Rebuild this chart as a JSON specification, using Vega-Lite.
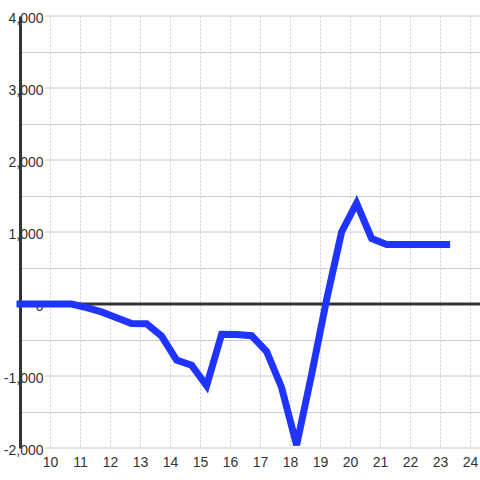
{
  "$schema": "https://vega.github.io/schema/vega-lite/v6.json",
  "width": 460,
  "height": 432,
  "autosize": {"type": "none"},
  "padding": {"left": 20, "top": 16, "right": 0, "bottom": 32},
  "background": "white",
  "config": {
    "view": {"stroke": null},
    "axis": {"labelFont": "Liberation Sans", "labelFontSize": 14, "labelColor": "#333333", "title": null, "labelOverlap": false},
    "axisX": {
      "grid": true, "gridColor": "#cccccc", "gridDash": [2, 2], "gridWidth": 1,
      "domain": false, "ticks": false, "tickSize": 0, "labelPadding": 7, "labelFlush": false, "labelOverlap": false
    },
    "axisY": {
      "grid": true, "gridColor": "#cccccc", "gridWidth": 1,
      "domain": true, "domainColor": "#333333", "domainWidth": 3,
      "ticks": false, "tickSize": 0, "labelPadding": -23, "labelOffset": 2,
      "labelAlign": "right", "labelBaseline": "middle", "labelOverlap": false
    }
  },
  "datasets": {
    "series": [
      {"t": 9.0, "value": 0},
      {"t": 10.22, "value": 0},
      {"t": 10.72, "value": 0},
      {"t": 11.22, "value": -50},
      {"t": 11.72, "value": -110},
      {"t": 12.22, "value": -190},
      {"t": 12.72, "value": -272},
      {"t": 13.22, "value": -275},
      {"t": 13.72, "value": -445},
      {"t": 14.22, "value": -778},
      {"t": 14.72, "value": -850},
      {"t": 15.22, "value": -1135},
      {"t": 15.72, "value": -420},
      {"t": 16.22, "value": -425},
      {"t": 16.72, "value": -440},
      {"t": 17.22, "value": -660},
      {"t": 17.72, "value": -1160},
      {"t": 18.22, "value": -1960},
      {"t": 18.72, "value": -980},
      {"t": 19.22, "value": 60},
      {"t": 19.72, "value": 1000},
      {"t": 20.22, "value": 1400},
      {"t": 20.72, "value": 910},
      {"t": 21.22, "value": 828},
      {"t": 21.72, "value": 826},
      {"t": 22.22, "value": 826},
      {"t": 22.72, "value": 826},
      {"t": 23.22, "value": 826}
    ],
    "majors": [
      {"v": -2000}, {"v": -1000}, {"v": 1000}, {"v": 2000}, {"v": 3000}, {"v": 4000}
    ],
    "zero": [{"v": 0}]
  },
  "layer": [
    {
      "data": {"name": "majors"},
      "mark": {"type": "rule", "color": "#cccccc", "strokeWidth": 1},
      "encoding": {
        "y": {
          "field": "v", "type": "quantitative",
          "scale": {"domain": [-2000, 4000], "nice": false, "zero": false},
          "axis": {
            "title": null,
            "values": [-2000, -1500, -1000, -500, 0, 500, 1000, 1500, 2000, 2500, 3000, 3500, 4000],
            "labelExpr": "datum.value % 1000 === 0 ? (datum.value < 0 ? '-' + format(-datum.value, ',') : format(datum.value, ',')) : ''",
            "gridOpacity": {"condition": {"test": "datum.value % 1000 === 0", "value": 0}, "value": 1}
          }
        },
        "x": {
          "datum": 9.833, "type": "quantitative",
          "scale": {"domain": [9, 24.3333], "nice": false, "zero": false},
          "axis": {"title": null, "values": [10, 11, 12, 13, 14, 15, 16, 17, 18, 19, 20, 21, 22, 23, 24]}
        },
        "x2": {"datum": 24.3333}
      }
    },
    {
      "data": {"name": "zero"},
      "mark": {"type": "rule", "color": "#333333", "strokeWidth": 3},
      "encoding": {
        "y": {
          "field": "v", "type": "quantitative",
          "axis": {
            "title": null,
            "values": [-2000, -1500, -1000, -500, 0, 500, 1000, 1500, 2000, 2500, 3000, 3500, 4000],
            "labelExpr": "datum.value % 1000 === 0 ? (datum.value < 0 ? '-' + format(-datum.value, ',') : format(datum.value, ',')) : ''",
            "gridOpacity": {"condition": {"test": "datum.value % 1000 === 0", "value": 0}, "value": 1}
          }
        },
        "x": {
          "datum": 9, "type": "quantitative",
          "axis": {"title": null, "values": [10, 11, 12, 13, 14, 15, 16, 17, 18, 19, 20, 21, 22, 23, 24]}
        },
        "x2": {"datum": 24.3333}
      }
    },
    {
      "data": {"name": "series"},
      "mark": {"type": "line", "color": "#1f35ff", "strokeWidth": 7, "strokeCap": "square", "strokeJoin": "miter"},
      "encoding": {
        "x": {
          "field": "t", "type": "quantitative",
          "axis": {"title": null, "values": [10, 11, 12, 13, 14, 15, 16, 17, 18, 19, 20, 21, 22, 23, 24]}
        },
        "y": {
          "field": "value", "type": "quantitative",
          "axis": {
            "title": null,
            "values": [-2000, -1500, -1000, -500, 0, 500, 1000, 1500, 2000, 2500, 3000, 3500, 4000],
            "labelExpr": "datum.value % 1000 === 0 ? (datum.value < 0 ? '-' + format(-datum.value, ',') : format(datum.value, ',')) : ''",
            "gridOpacity": {"condition": {"test": "datum.value % 1000 === 0", "value": 0}, "value": 1}
          }
        }
      }
    }
  ]
}
